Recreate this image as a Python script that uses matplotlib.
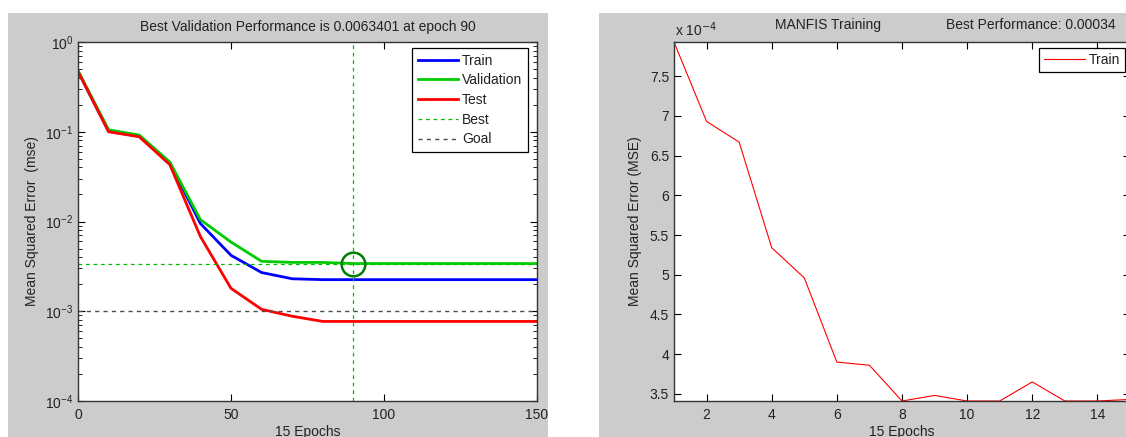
import matplotlib
matplotlib.use("Agg")
import matplotlib.pyplot as plt
from matplotlib.patches import Rectangle
import numpy as np

plt.rcParams['font.family'] = ['Liberation Sans', 'DejaVu Sans']

# ---- Left chart data (neural network performance) ----
epochs = [0, 10, 20, 30, 40, 50, 60, 70, 80, 90, 100, 110, 120, 130, 140, 150]
train = [0.47, 0.101, 0.089, 0.045, 0.0095, 0.0042, 0.0027, 0.0023, 0.00225, 0.00225,
         0.00225, 0.00225, 0.00225, 0.00225, 0.00225, 0.00225]
validation = [0.48, 0.105, 0.092, 0.046, 0.0105, 0.0059, 0.0036, 0.0035, 0.0035, 0.0034,
              0.0034, 0.0034, 0.0034, 0.0034, 0.0034, 0.0034]
test = [0.47, 0.10, 0.088, 0.043, 0.0068, 0.0018, 0.00105, 0.00088, 0.00077, 0.00077,
        0.00077, 0.00077, 0.00077, 0.00077, 0.00077, 0.00077]
best_epoch = 90
best_value = 0.0034
goal = 1e-3
left_title = "Best Validation Performance is 0.0063401 at epoch 90"
left_xticks = [0, 50, 100, 150]

# ---- Right chart data (MANFIS training) ----
manfis_epochs = list(range(1, 16))
manfis_mse = [7.93, 6.93, 6.67, 5.34, 4.96, 3.90, 3.86, 3.41, 3.48, 3.41, 3.41, 3.65,
              3.41, 3.41, 3.43]  # x 1e-4
right_xticks = [2, 4, 6, 8, 10, 12, 14]
right_yticks = [3.5, 4, 4.5, 5, 5.5, 6, 6.5, 7, 7.5]

W, H = 1126, 437
fig = plt.figure(figsize=(W / 100, H / 100), dpi=100, facecolor='white')

gray = '#cccccc'
txt = '#222222'
bg = fig.add_axes([0, 0, 1, 1], zorder=-10)
bg.axis('off')
bg.set_xlim(0, W)
bg.set_ylim(H, 0)
bg.add_patch(Rectangle((8, 13), 540, H - 13, facecolor=gray, edgecolor='none'))
bg.add_patch(Rectangle((599, 13), W - 599, H - 13, facecolor=gray, edgecolor='none'))

FS = 10
ax1 = fig.add_axes([78 / W, (H - 401) / H, (537 - 78) / W, (401 - 42) / H])
ax1.set_yscale('log')
ax1.plot(epochs, train, color=(0, 0, 1), lw=2, label='Train')
ax1.plot(epochs, validation, color=(0, 0.8, 0), lw=2, label='Validation')
ax1.plot(epochs, test, color=(1, 0, 0), lw=2, label='Test')
ax1.axhline(best_value, color=(0, 0.75, 0), lw=0.9, ls=(0, (3, 3)), label='Best')
ax1.axvline(best_epoch, color=(0, 0.75, 0), lw=0.9, ls=(0, (3, 3)))
ax1.axhline(goal, color=(0.3, 0.3, 0.3), lw=1.0, ls=(0, (3, 3)), label='Goal')
ax1.plot([best_epoch], [best_value], marker='o', ms=17, mfc='none', mec=(0, 0.5, 0), mew=1.8)
ax1.set_xlim(0, 150)
ax1.set_ylim(1e-4, 1)
ax1.set_xticks(left_xticks)
ax1.set_title(left_title, fontsize=FS, pad=8, color=txt)
ax1.set_xlabel("15 Epochs", fontsize=FS, labelpad=2, color=txt)
ax1.set_ylabel("Mean Squared Error  (mse)", fontsize=FS, labelpad=4, color=txt)
ax1.tick_params(which='both', direction='in', top=True, right=True, labelsize=FS,
                labelcolor=txt)
ax1.tick_params(axis='x', pad=5)
ax1.tick_params(which='major', length=5)
ax1.tick_params(which='minor', length=3)
leg = ax1.legend(loc='upper right', fontsize=FS, frameon=True, fancybox=False,
                 edgecolor='black', framealpha=1, handlelength=2.9, borderpad=0.4,
                 labelspacing=0.41, handletextpad=0.3, borderaxespad=0,
                 bbox_to_anchor=(0.980, 0.983))
leg.get_frame().set_linewidth(0.9)
for t in leg.get_texts():
    t.set_color(txt)

ax2 = fig.add_axes([674 / W, (H - 401) / H, (1130 - 674) / W, (401 - 42) / H])
ax2.plot(manfis_epochs, manfis_mse, color=(1, 0, 0), lw=0.8, label='Train')
ax2.set_xlim(1, 15)
ax2.set_ylim(min(manfis_mse), max(manfis_mse))
ax2.set_xticks(right_xticks)
ax2.set_yticks(right_yticks)
ax2.set_yticklabels([("%g" % v) for v in right_yticks])
ax2.tick_params(which='both', direction='in', top=True, right=True, labelsize=FS, length=5,
                labelcolor=txt)
ax2.tick_params(axis='x', pad=5)
ax2.set_xlabel("15 Epochs", fontsize=FS, labelpad=2, color=txt)
ax2.set_ylabel("Mean Squared Error (MSE)", fontsize=FS, labelpad=6, color=txt)
fig.text(675 / W, (H - 30) / H, r"x 10$^{-4}$", fontsize=FS, va='center', ha='left', color=txt)
fig.text(828 / W, (H - 25) / H, "MANFIS Training", fontsize=FS, va='center', ha='center', color=txt)
fig.text(1031 / W, (H - 25) / H, "Best Performance: 0.00034", fontsize=FS, va='center',
         ha='center', color=txt)
leg2 = ax2.legend(loc='upper right', fontsize=FS, frameon=True, fancybox=False,
                  edgecolor='black', framealpha=1, handlelength=2.9, borderpad=0.35,
                  handletextpad=0.3, borderaxespad=0, bbox_to_anchor=(0.989, 0.983))
leg2.get_frame().set_linewidth(0.9)
for t in leg2.get_texts():
    t.set_color(txt)

for ax in (ax1, ax2):
    for s in ax.spines.values():
        s.set_color('#333333')
        s.set_linewidth(1.0)

fig.savefig("out.png", dpi=100, facecolor='white')
